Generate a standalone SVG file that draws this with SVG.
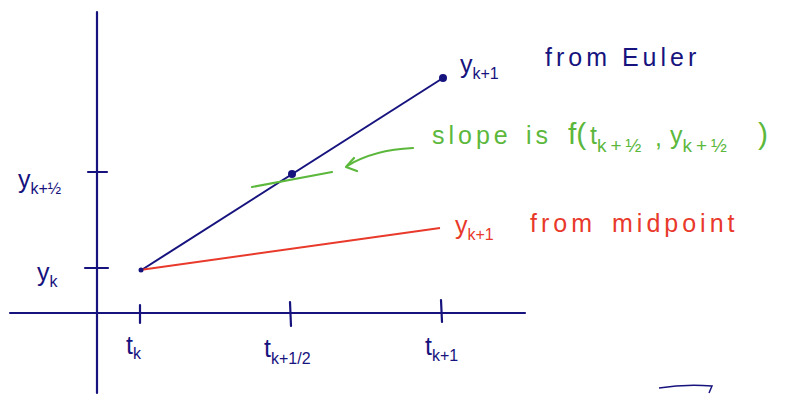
<svg xmlns="http://www.w3.org/2000/svg" width="792" height="395" viewBox="0 0 792 395">
<style>
.ax{stroke:#17137e;stroke-width:2.2;fill:none;stroke-linecap:round}
.b{fill:#17137e}
.g{fill:#5cb83c}
.r{fill:#e8392b}
text{font-family:"Liberation Sans",Arial,sans-serif;font-size:25px}
.sub{font-size:16px}
.sub2{font-size:19px;letter-spacing:4px}
.w{letter-spacing:4px}
</style>
<rect width="792" height="395" fill="#fff"/>
<g id="axes">
<line class="ax" x1="97" y1="12" x2="97" y2="393"/>
<line class="ax" x1="10" y1="313" x2="525" y2="313"/>
<line class="ax" x1="88" y1="172" x2="107" y2="172"/>
<line class="ax" x1="85" y1="268" x2="108" y2="268"/>
<line class="ax" x1="140" y1="305" x2="140" y2="323"/>
<line class="ax" x1="290" y1="302" x2="291" y2="326"/>
<line class="ax" x1="441" y1="300" x2="442" y2="322"/>
</g>
<g id="connectors">
<line x1="140" y1="271" x2="443" y2="78" stroke="#17137e" stroke-width="2"/>
<line x1="140" y1="270" x2="440" y2="228" stroke="#e8392b" stroke-width="2"/>
<line x1="252" y1="187" x2="332" y2="172" stroke="#5cb83c" stroke-width="2.2" stroke-linecap="round"/>
<path d="M413,148 C390,149 365,155 347,166" stroke="#5cb83c" stroke-width="2.2" fill="none" stroke-linecap="round"/>
<path d="M354,158 L346,167 L357,171" stroke="#5cb83c" stroke-width="2.2" fill="none" stroke-linecap="round" stroke-linejoin="round"/>
<path d="M659,388 Q684,384 712,386 L709,393" stroke="#17137e" stroke-width="1.5" fill="none"/>
</g>
<g id="points">
<circle class="b" cx="443" cy="78" r="4"/>
<circle class="b" cx="292" cy="174" r="4"/>
<circle class="b" cx="141" cy="270" r="2.5"/>
</g>
<g id="labels-y">
<text class="b" x="18" y="188">y<tspan class="sub" dy="6">k+½</tspan></text>
<text class="b" x="37" y="281">y<tspan class="sub" dy="6">k</tspan></text>
</g>
<g id="labels-t">
<text class="b" x="126" y="354">t<tspan class="sub" dy="5">k</tspan></text>
<text class="b" x="264" y="357">t<tspan class="sub" dy="7">k+1/2</tspan></text>
<text class="b" x="425" y="355">t<tspan class="sub" dy="6">k+1</tspan></text>
</g>
<g id="euler">
<text class="b" x="460" y="73">y<tspan class="sub" dy="6">k+1</tspan></text>
<text class="b w" x="545" y="66">from Euler</text>
</g>
<g id="slope">
<text class="g w" x="432" y="144">slope</text>
<text class="g w" x="526" y="144">is</text>
<text class="g" x="568" y="144" style="font-size:30px">f(</text>
<text class="g" x="590" y="144">t<tspan class="sub2" dy="8">k+½</tspan></text>
<text class="g" x="655" y="146">,</text>
<text class="g" x="670" y="144">y<tspan class="sub2" dy="8">k+½</tspan></text>
<text class="g" x="758" y="144" style="font-size:30px">)</text>
</g>
<g id="midpoint">
<text class="r" x="455" y="234">y<tspan class="sub" dy="6">k+1</tspan></text>
<text class="r w" x="530" y="232">from</text>
<text class="r w" x="612" y="232">midpoint</text>
</g>
</svg>
